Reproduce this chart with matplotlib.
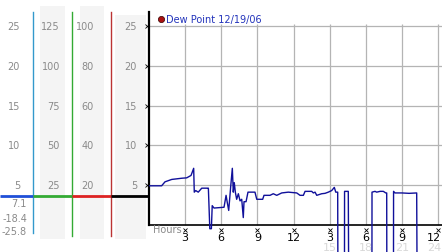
import matplotlib
matplotlib.use("Agg")
import matplotlib.pyplot as plt

# ---------------- data ----------------
hours = [0.06, 1.05, 1.33, 1.89, 2.72, 3.13, 3.49, 3.71, 3.76, 3.88, 4.09, 4.38, 4.88,
         4.93, 5.05, 5.18, 5.25, 5.40, 6.23, 6.40, 6.50, 6.62, 6.79, 6.92, 7.00, 7.08,
         7.17, 7.28, 7.42, 7.56, 7.70, 7.83, 7.89, 8.06, 8.22, 8.80, 8.95, 9.44, 9.55,
         10.05, 10.32, 10.61, 11.02, 11.57, 12.27, 12.54, 12.82, 12.96, 13.51, 13.65,
         13.79, 13.93, 14.34, 14.62, 14.89, 15.17, 15.39, 15.51, 15.67, 15.72, 16.22,
         16.24, 16.55, 16.64, 18.50, 18.52, 18.77, 18.91, 19.19, 19.46, 19.66, 19.74,
         19.77, 20.29, 20.31, 20.43, 21.0, 21.6, 22.23, 22.32]
dew_point = [4.9, 4.9, 5.4, 5.7, 5.85, 5.9, 6.2, 7.1, 4.1, 4.3, 4.1, 4.6, 4.6,
             4.6, -0.5, -0.5, 2.4, 2.1, 2.2, 3.7, 2.8, 1.8, 4.9, 7.1, 4.1, 5.3,
             4.1, 3.2, 3.9, 3.0, 3.2, 0.9, 2.9, 2.9, 4.1, 4.1, 3.2, 3.2, 3.7,
             3.7, 3.9, 3.7, 4.0, 4.1, 4.0, 3.7, 3.7, 4.2, 4.2, 4.0,
             4.1, 3.7, 3.9, 3.95, 4.1, 4.3, 4.7, 4.1, 4.1, -25.8, -25.8,
             4.2, 4.2, -25.8, -25.8, 4.1, 4.2, 4.1, 4.2, 4.2, 4.0, 4.0,
             -25.8, -25.8, 4.2, 4.0, 4.0, 3.95, 4.0, -25.8]

y_ticks = [25, 20, 15, 10, 5]
scale_a = ["25", "20", "15", "10", "5"]
scale_b = ["125", "100", "75", "50", "25"]
scale_c = ["100", "80", "60", "40", "20"]
stats = ["7.1", "-18.4", "-25.8"]
current_value = 3.6
x_ticks = [3, 6, 9, 12, 15, 18, 21, 24]
x_labels = ["3", "6", "9", "12", "3", "6", "9", "12"]
x_sub_ticks = [15, 18, 21, 24]
x_sub_labels = ["15", "18", "21", "24"]
legend_label = "Dew Point 12/19/06"

# ---------------- layout ----------------
W, H = 442, 253
fig = plt.figure(figsize=(W / 100, H / 100), dpi=100)
fig.patch.set_facecolor("white")
ylo, yhi = -3.43, 28.40
FS = 7
gray_txt = "#8a8a8a"

# main plot
ax = fig.add_axes([149 / W, 0, (W - 149) / W, 1])
ax.set_xlim(0, 24 * (W - 149) / 289)
ax.set_ylim(ylo, yhi)
ax.axis("off")
xmax = ax.get_xlim()[1]

for v in y_ticks:
    ax.plot([0, xmax], [v, v], color="#b4b4b4", lw=0.9, zorder=1)
ax.vlines(x_ticks, 0, 25.3, color="#b4b4b4", lw=0.9, zorder=1)
ax.plot([0, xmax], [0, 0], color="black", lw=1.2, zorder=3, clip_on=False)
ax.plot([0, 0], [0, 26.8], color="black", lw=1.6, zorder=3, clip_on=False)

ax.plot(hours, dew_point, color="#10109a", lw=1.0, zorder=4)

# x tick labels
ax.plot(x_ticks, [-0.72] * len(x_ticks), ls="none", marker="x", ms=2.2, mew=0.6,
        color="black", zorder=5)


def _place(t):
    # keep the last label inside the picture
    if t >= 24:
        return t + 0.27, "right"
    return t, "center"


for t, lab in zip(x_ticks, x_labels):
    xx, ha = _place(t)
    ax.text(xx, -1.6, lab, ha=ha, va="center", fontsize=FS + 1, color="black")
for t, lab in zip(x_sub_ticks, x_sub_labels):
    xx, ha = _place(t)
    ax.text(xx, -2.75, lab, ha=ha, va="center", fontsize=FS + 1, color="#d8d8d8")
ax.text(0.33, -0.55, "Hours", ha="left", va="center", fontsize=FS, color=gray_txt)

# legend
ax.plot([1.0], [25.9], marker="o", ms=4.5, mfc="#aa1111", mec="#330000", mew=0.5,
        clip_on=False, zorder=6)
ax.text(1.42, 25.9, legend_label, ha="left", va="center", fontsize=FS,
        color="#2233bb")

# left panel
lp = fig.add_axes([0, 0, 149 / W, 1])
lp.set_xlim(0, 149)
lp.set_ylim(ylo, yhi)
lp.axis("off")

shade = "#f4f4f4"
lp.fill_between([40, 65], -1.8, 27.5, color=shade, lw=0, zorder=0)
lp.fill_between([80, 104], -1.8, 27.5, color=shade, lw=0, zorder=0)
lp.fill_between([115, 146], -1.8, 26.4, color=shade, lw=0, zorder=0)

lp.plot([33, 33], [-1.1, 26.8], color="#3399cc", lw=1.0, zorder=2)
lp.plot([72, 72], [-1.4, 26.8], color="#33aa33", lw=1.0, zorder=2)
lp.plot([111, 111], [-1.4, 26.8], color="#bb3333", lw=1.0, zorder=2)

lp.plot([0, 33], [current_value] * 2, color="#1f4fd8", lw=2.0, zorder=3,
        solid_capstyle="butt")
lp.plot([33, 72], [current_value] * 2, color="#33aa33", lw=2.0, zorder=3,
        solid_capstyle="butt")
lp.plot([72, 111], [current_value] * 2, color="#dd2222", lw=2.0, zorder=3,
        solid_capstyle="butt")
lp.plot([111, 149], [current_value] * 2, color="black", lw=2.0, zorder=3,
        solid_capstyle="butt")

for v, a, b, c in zip(y_ticks, scale_a, scale_b, scale_c):
    lp.text(20, v, a, ha="right", va="center", fontsize=FS, color=gray_txt)
    lp.text(60, v, b, ha="right", va="center", fontsize=FS, color=gray_txt)
    lp.text(94, v, c, ha="right", va="center", fontsize=FS, color=gray_txt)
    lp.text(137, v, a, ha="right", va="center", fontsize=FS, color=gray_txt)
lp.plot([147] * len(y_ticks), y_ticks, ls="none", marker="x", ms=2.2, mew=0.6,
        color="black", zorder=5)

for yv, s in zip([2.75, 0.85, -0.8], stats):
    lp.text(27, yv, s, ha="right", va="center", fontsize=FS, color=gray_txt)

fig.savefig("out.png", dpi=100)
